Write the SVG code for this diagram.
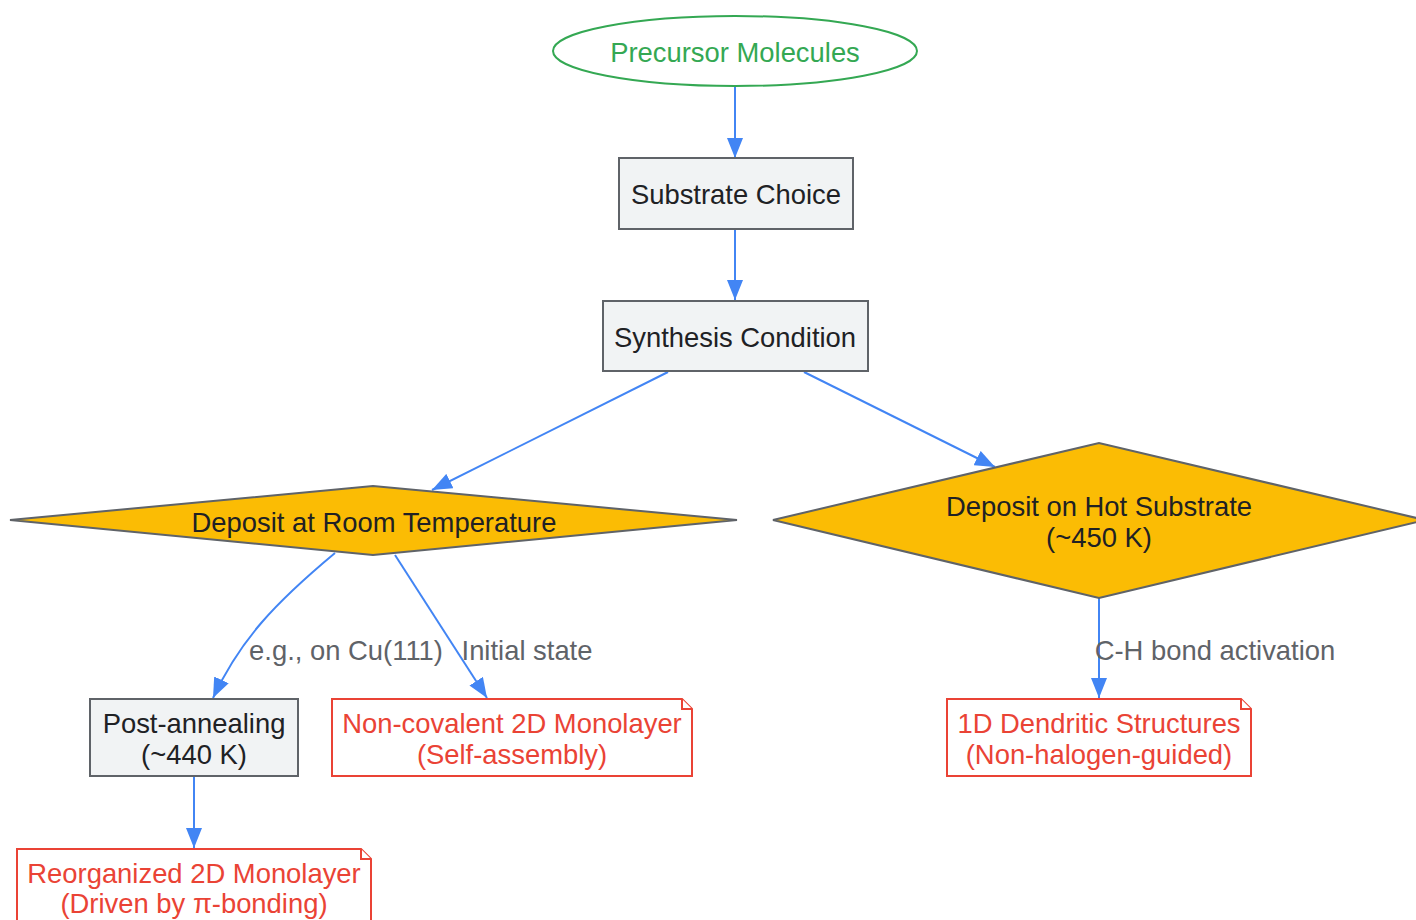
<svg xmlns="http://www.w3.org/2000/svg" width="1416" height="920" viewBox="0 0 1416 920">
  <style>
    text { font-family: "Liberation Sans", Arial, sans-serif; font-size: 27.4px; text-anchor: middle; }
    .proc { fill: #f1f3f4; stroke: #5f6368; stroke-width: 2; }
    .proc-t { fill: #202124; }
    .dec { fill: #fbbc04; stroke: #5f6368; stroke-width: 2; }
    .note { fill: #ffffff; stroke: #ea4335; stroke-width: 2; }
    .note-t { fill: #ea4335; }
    .start { fill: #ffffff; stroke: #34a853; stroke-width: 2; }
    .start-t { fill: #34a853; }
    .edge { fill: none; stroke: #4285f4; stroke-width: 2; marker-end: url(#arrow); }
    .lbl { fill: #5f6368; }
  </style>
  <defs>
    <marker id="arrow" viewBox="0 0 20 16" refX="20" refY="8" markerWidth="20" markerHeight="16" markerUnits="userSpaceOnUse" orient="auto">
      <path d="M0,0 L20,8 L0,16 Z" fill="#4285f4"/>
    </marker>
  </defs>
  <rect width="1416" height="920" fill="#ffffff"/>

  <g id="connectors">
    <path class="edge" d="M735,86 L735,158"/>
    <path class="edge" d="M735,229 L735,300"/>
    <path class="edge" d="M668,372 L432,490"/>
    <path class="edge" d="M804,372 L995,467"/>
    <path class="edge" d="M335,553 C275,603 240,640 213,698"/>
    <path class="edge" d="M395,555 L487,698"/>
    <path class="edge" d="M1099,598 L1099,698"/>
    <path class="edge" d="M194,776 L194,848"/>
    <text class="lbl" x="346" y="660">e.g., on Cu(111)</text>
    <text class="lbl" x="527" y="660">Initial state</text>
    <text class="lbl" x="1215" y="660">C-H bond activation</text>
  </g>

  <g id="precursor">
    <ellipse class="start" cx="735" cy="51" rx="182" ry="35"/>
    <text class="start-t" x="735" y="62">Precursor Molecules</text>
  </g>

  <g id="substrate">
    <rect class="proc" x="619" y="158" width="234" height="71"/>
    <text class="proc-t" x="736" y="204">Substrate Choice</text>
  </g>

  <g id="synthesis">
    <rect class="proc" x="603" y="301" width="265" height="70"/>
    <text class="proc-t" x="735" y="347">Synthesis Condition</text>
  </g>

  <g id="room-temp">
    <polygon class="dec" points="10,520 373,486 737,520 373,555"/>
    <text class="proc-t" x="374" y="532">Deposit at Room Temperature</text>
  </g>

  <g id="hot-substrate">
    <polygon class="dec" points="773,520 1099,443 1425,520 1099,598"/>
    <text class="proc-t" x="1099" y="516">Deposit on Hot Substrate</text>
    <text class="proc-t" x="1099" y="547">(~450 K)</text>
  </g>

  <g id="post-annealing">
    <rect class="proc" x="90" y="699" width="208" height="77"/>
    <text class="proc-t" x="194" y="733">Post-annealing</text>
    <text class="proc-t" x="194" y="764">(~440 K)</text>
  </g>

  <g id="non-covalent">
    <path class="note" d="M332,699 H682 L692,709 V776 H332 Z"/>
    <path class="note" d="M682,699 V709 H692"/>
    <text class="note-t" x="512" y="733">Non-covalent 2D Monolayer</text>
    <text class="note-t" x="512" y="764">(Self-assembly)</text>
  </g>

  <g id="dendritic">
    <path class="note" d="M947,699 H1241 L1251,709 V776 H947 Z"/>
    <path class="note" d="M1241,699 V709 H1251"/>
    <text class="note-t" x="1099" y="733">1D Dendritic Structures</text>
    <text class="note-t" x="1099" y="764">(Non-halogen-guided)</text>
  </g>

  <g id="reorganized">
    <path class="note" d="M17,849 H361 L371,859 V935 H17 Z"/>
    <path class="note" d="M361,849 V859 H371"/>
    <text class="note-t" x="194" y="883">Reorganized 2D Monolayer</text>
    <text class="note-t" x="194" y="913">(Driven by π-bonding)</text>
  </g>
</svg>
